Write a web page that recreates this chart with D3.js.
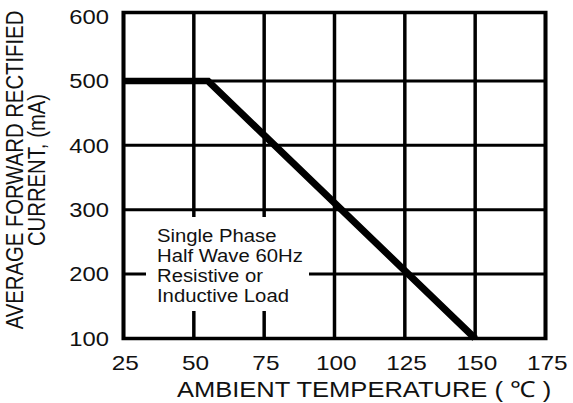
<!DOCTYPE html>
<html>
<head>
<meta charset="utf-8">
<script src="https://cdn.jsdelivr.net/npm/d3@7"></script>
<style>body { margin: 0; background: #fff; }</style>
</head>
<body>
<script>
const WIDTH = 573;
const HEIGHT = 403;
const SX = 1.16; // the source picture is stretched sideways, so draw in a squeezed frame
const FONT = 'Arial, "Liberation Sans", sans-serif';

const tempTicks = [25, 50, 75, 100, 125, 150, 175];
const currentTicks = [100, 200, 300, 400, 500, 600];
const curveTemp = [25, 55, 150];
const curveCurrent = [500, 500, 100];
const noteLines = ['Single Phase', 'Half Wave 60Hz', 'Resistive or', 'Inductive Load'];
const yTitle = ['AVERAGE FORWARD RECTIFIED', 'CURRENT, (mA)'];
const xTitle = 'AMBIENT TEMPERATURE ( \u2103 )';

const svg = d3.select('body').append('svg')
    .attr('width', WIDTH)
    .attr('height', HEIGHT);

const g = svg.append('g').attr('transform', `scale(${SX},1)`);

const x = d3.scaleLinear().domain([25, 175]).range([123.5 / SX, 545.5 / SX]);
const y = d3.scaleLinear().domain([100, 600]).range([338.5, 16.5]);

// grid
g.selectAll('.vgrid').data(tempTicks.slice(1, -1)).enter().append('line')
  .attr('x1', d => x(d)).attr('x2', d => x(d))
  .attr('y1', y(100)).attr('y2', y(600) - 4)
  .attr('stroke', '#000').attr('stroke-width', 3);

g.selectAll('.hgrid').data(currentTicks.slice(1, -1)).enter().append('line')
  .attr('x1', x(25)).attr('x2', x(175))
  .attr('y1', d => y(d)).attr('y2', d => y(d))
  .attr('stroke', '#000').attr('stroke-width', 3);

// note box blanks out the grid behind it
g.append('rect')
  .attr('x', 146 / SX).attr('y', 217)
  .attr('width', (309 - 146) / SX).attr('height', 311 - 217)
  .attr('fill', '#fff');

g.selectAll('.note').data(noteLines).enter().append('text')
  .attr('x', 157 / SX)
  .attr('y', (d, i) => 242 + i * 20)
  .attr('font-family', FONT).attr('font-size', 17.5)
  .attr('fill', '#111')
  .text(d => d);

// frame
g.append('rect')
  .attr('x', x(25)).attr('y', y(600) - 4)
  .attr('width', x(175) - x(25)).attr('height', y(100) - y(600) + 4)
  .attr('fill', 'none').attr('stroke', '#000').attr('stroke-width', 3.5);

// derating curve
const line = d3.line().x(d => x(d[0])).y(d => y(d[1]));
g.append('path')
  .attr('d', line(curveTemp.map((t, i) => [t, curveCurrent[i]])))
  .attr('fill', 'none').attr('stroke', '#000')
  .attr('stroke-width', 6.5).attr('stroke-linejoin', 'miter');

// tick labels
g.selectAll('.xlab').data(tempTicks).enter().append('text')
  .attr('x', d => x(d) + 1.5)
  .attr('y', 370)
  .attr('text-anchor', 'middle')
  .attr('font-family', FONT).attr('font-size', 21)
  .attr('fill', '#111')
  .text(d => d);

g.selectAll('.ylab').data(currentTicks).enter().append('text')
  .attr('x', 109 / SX)
  .attr('y', d => y(d))
  .attr('dy', '0.36em')
  .attr('text-anchor', 'end')
  .attr('font-family', FONT).attr('font-size', 20.5)
  .attr('fill', '#111')
  .text(d => d);

// axis titles
g.selectAll('.ytitle').data(yTitle).enter().append('text')
  .attr('transform', (d, i) => `translate(${(i ? 44.6 : 23) / SX},170) rotate(-90)`)
  .attr('text-anchor', 'middle')
  .attr('font-family', FONT).attr('font-size', 20.3)
  .attr('fill', '#111')
  .text(d => d);

g.append('text')
  .attr('x', 177 / SX).attr('y', 397)
  .attr('font-family', FONT).attr('font-size', 22)
  .attr('fill', '#111')
  .text(xTitle);
</script>
</body>
</html>
